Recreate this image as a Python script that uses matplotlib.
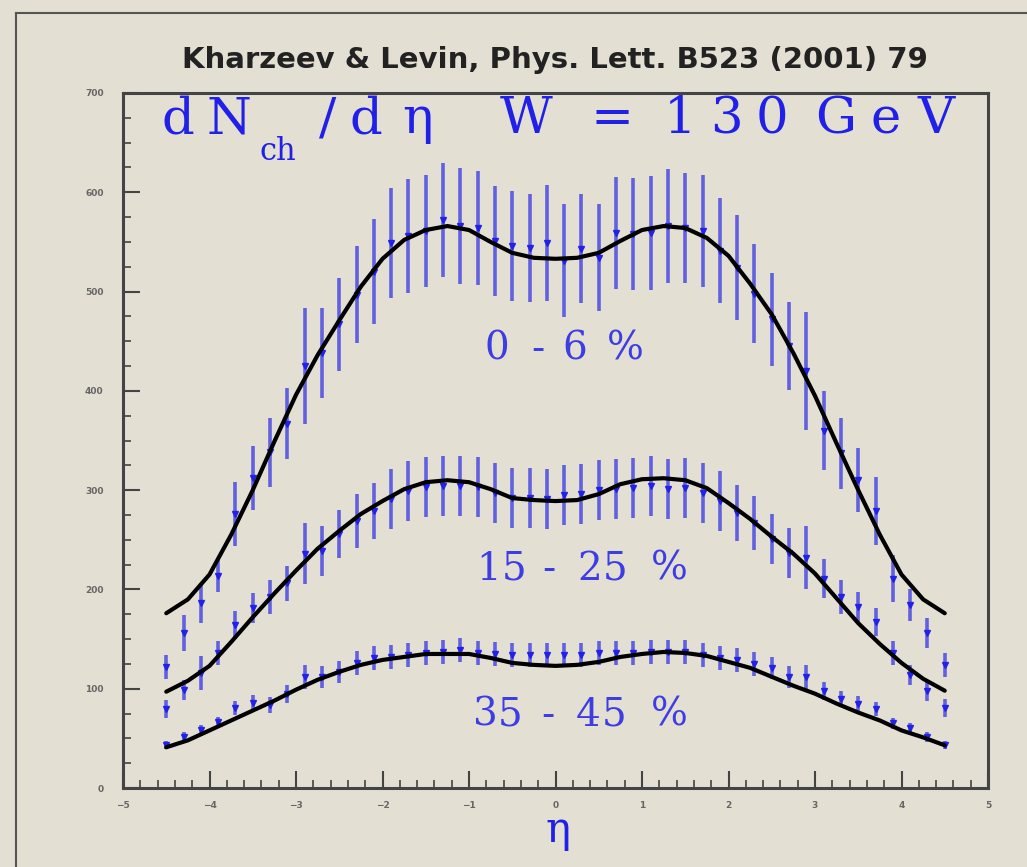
import numpy as np
import matplotlib
matplotlib.use('Agg')
import matplotlib.pyplot as plt
from matplotlib.ticker import MultipleLocator
from matplotlib.lines import Line2D

# measured points, eta = -4.5 ... 4.5 in steps of 0.2
eta = [-4.5, -4.3, -4.1, -3.9, -3.7, -3.5, -3.3, -3.1, -2.9, -2.7, -2.5, -2.3,
       -2.1, -1.9, -1.7, -1.5, -1.3, -1.1, -0.9, -0.7, -0.5, -0.3, -0.1,
       0.1, 0.3, 0.5, 0.7, 0.9, 1.1, 1.3, 1.5, 1.7, 1.9, 2.1, 2.3, 2.5, 2.7,
       2.9, 3.1, 3.3, 3.5, 3.7, 3.9, 4.1, 4.3, 4.5]

dn_0_6 = [122, 156, 186, 214, 276, 312, 338, 367, 425, 438, 467, 497,
          520, 549, 556, 561, 572, 566, 564, 551, 546, 544, 549,
          531, 543, 534, 559, 558, 559, 566, 564, 561, 541, 524, 498, 472, 445,
          420, 360, 337, 310, 279, 211, 184, 156, 124]
err_0_6 = [12, 18, 20, 17, 32, 32, 35, 36, 58, 45, 47, 49,
           53, 55, 57, 56, 57, 58, 57, 55, 55, 54, 58,
           57, 55, 54, 56, 56, 57, 57, 55, 56, 53, 53, 50, 47, 44,
           59, 40, 36, 32, 34, 24, 16, 15, 12]

dn_15_25 = [80, 99, 116, 136, 164, 181, 192, 206, 236, 239, 256, 269,
            279, 291, 299, 303, 304, 304, 303, 297, 292, 292, 291,
            295, 296, 300, 301, 302, 304, 301, 302, 297, 289, 277, 267, 251, 237,
            232, 211, 192, 182, 167, 136, 114, 98, 81]
err_15_25 = [9, 10, 17, 12, 14, 15, 17, 18, 31, 25, 24, 27,
             28, 30, 30, 30, 30, 30, 30, 30, 30, 30, 30,
             30, 30, 30, 30, 30, 30, 30, 30, 30, 30, 28, 27, 25, 25,
             32, 20, 17, 15, 14, 12, 10, 10, 9]

dn_35_45 = [43, 51, 58, 66, 81, 86, 84, 95, 112, 112, 117, 126,
            131, 132, 134, 136, 137, 139, 136, 135, 134, 134, 134,
            134, 134, 136, 136, 136, 137, 137, 137, 134, 131, 129, 125, 121, 112,
            112, 98, 90, 85, 80, 65, 60, 51, 43]
err_35_45 = [4, 5, 5, 6, 7, 8, 8, 9, 12, 11, 11, 12,
             12, 12, 12, 12, 12, 12, 12, 12, 12, 12, 12,
             12, 12, 12, 12, 12, 12, 12, 12, 12, 12, 12, 12, 11, 11,
             12, 9, 8, 8, 7, 6, 5, 5, 4]

# saturation model curves (Kharzeev & Levin)
eta_th = [-4.5, -4.25, -4.0, -3.75, -3.5, -3.25, -3.0, -2.75, -2.5, -2.25,
          -2.0, -1.75, -1.5, -1.25, -1.0, -0.75, -0.5, -0.25, 0.0,
          0.25, 0.5, 0.75, 1.0, 1.25, 1.5, 1.75, 2.0, 2.25, 2.5, 2.75,
          3.0, 3.25, 3.5, 3.75, 4.0, 4.25, 4.5]
th_0_6 = [176, 190, 215, 255, 300, 349, 396, 436, 471, 505,
          533, 552, 562, 566, 562, 550, 539, 534, 533,
          534, 539, 551, 562, 566, 564, 554, 536, 508, 477, 438,
          395, 347, 300, 255, 215, 190, 176]
th_15_25 = [97, 108, 123, 147, 172, 196, 219, 241, 259, 276,
            289, 301, 308, 310, 308, 301, 292, 290, 289,
            290, 296, 306, 311, 312, 310, 302, 287, 271, 253, 236,
            216, 191, 166, 145, 126, 110, 98]
th_35_45 = [41, 48, 58, 68, 78, 88, 99, 109, 117, 124,
            129, 132, 135, 135, 135, 131, 126, 124, 123,
            124, 127, 132, 135, 137, 136, 133, 127, 121, 112, 103,
            95, 85, 76, 68, 58, 51, 43]

labels = ['0 - 6 %', '15 - 25 %', '35 - 45 %']

bg = '#e4dfd3'
blue = '#2020e8'
ebar = '#5a5ae0'
W, H = 1027, 867

fig = plt.figure(figsize=(10.27, 8.67), dpi=100, facecolor=bg)
ax = fig.add_axes([123 / W, 1 - 788 / H, 865 / W, 695 / H])
ax.set_facecolor(bg)

for dn, err in [(dn_0_6, err_0_6), (dn_15_25, err_15_25), (dn_35_45, err_35_45)]:
    ax.errorbar(eta, dn, yerr=err, fmt='v', color=blue, ms=4,
                ecolor=ebar, elinewidth=2.6, capsize=0, alpha=0.95, zorder=2)

for th in [th_0_6, th_15_25, th_35_45]:
    ax.plot(eta_th, th, color='black', lw=3, zorder=3, solid_capstyle='round',
            solid_joinstyle='round')

ax.set_xlim(-5, 5)
ax.set_ylim(0, 700)
ax.xaxis.set_major_locator(MultipleLocator(1))
ax.xaxis.set_minor_locator(MultipleLocator(0.2))
ax.yaxis.set_major_locator(MultipleLocator(100))
ax.yaxis.set_minor_locator(MultipleLocator(25))
ax.tick_params(which='both', direction='in', top=False, right=False,
               color='#444444', labelcolor='#666666', labelsize=6.5)
ax.tick_params(which='major', length=12, width=1.5)
ax.tick_params(which='minor', length=6, width=1.2)
ax.tick_params(axis='y', which='major', pad=14)
ax.tick_params(axis='x', which='major', pad=9)
for lab in ax.get_xticklabels() + ax.get_yticklabels():
    lab.set_fontweight('bold')
for sp in ax.spines.values():
    sp.set_color('#444444')
    sp.set_linewidth(2.2)


# the slide's lettering is stretched sideways, so place it glyph by glyph
def spaced(chars, xs, y, size, alpha=1.0):
    for ch, x in zip(chars, xs):
        fig.text(x / W, 1 - y / H, ch, color=blue, fontsize=size, alpha=alpha,
                 family='DejaVu Serif', ha='center', va='baseline')


spaced(['d', 'N', '/', 'd', 'η'], [178, 229, 328, 366, 418], 133, 37)
spaced(['ch'], [278], 160, 22)
spaced(['W', '=', '1', '3', '0', 'G', 'e', 'V'],
       [526, 612, 680, 726, 772, 836, 886, 936], 133, 37)

label_glyphs = [[c for c in lab if c != ' '] for lab in labels]
spaced(label_glyphs[0], [497, 538, 575, 625], 360, 28, 0.85)
spaced(label_glyphs[1], [489, 514, 549, 590, 615, 669], 580, 28, 0.85)
spaced(label_glyphs[2], [485, 510, 548, 588, 614, 669], 726, 28, 0.85)

fig.text(555 / W, 1 - 60 / H, 'Kharzeev & Levin, Phys. Lett. B523 (2001) 79',
         ha='center', va='center', fontsize=21, fontweight='bold',
         family='DejaVu Sans', color='#222222')
fig.text(558 / W, 1 - 830 / H, 'η', ha='center', va='center',
         fontsize=30, family='DejaVu Serif', color=blue)

# slide frame around the figure
fig.add_artist(Line2D([16 / W, 16 / W], [0, 1 - 13 / H],
                      transform=fig.transFigure, color='#555555', lw=1.5))
fig.add_artist(Line2D([16 / W, 1], [1 - 13 / H, 1 - 13 / H],
                      transform=fig.transFigure, color='#555555', lw=1.5))

fig.savefig('out.png', dpi=100, facecolor=bg)
